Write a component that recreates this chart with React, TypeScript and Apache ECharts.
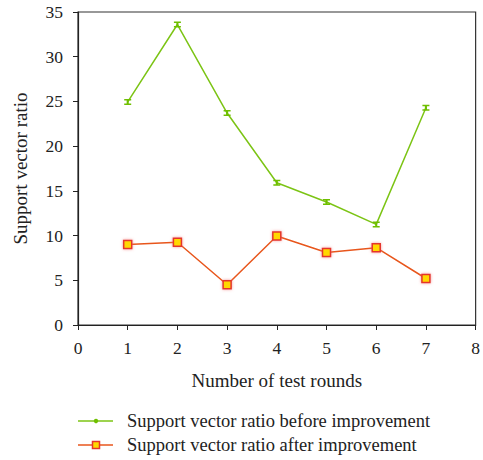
import React, { useEffect, useRef } from "react";
import * as echarts from "echarts";

const rounds = [1, 2, 3, 4, 5, 6, 7];
const beforeValues = [24.95, 33.6, 23.7, 15.9, 13.75, 11.25, 24.3];
const afterValues = [9.0, 9.25, 4.5, 9.95, 8.1, 8.65, 5.2];
const seriesNames = [
  "Support vector ratio before improvement",
  "Support vector ratio after improvement",
];
const xTitle = "Number of test rounds";
const yTitle = "Support vector ratio";

const FONT = "'Liberation Serif', 'Times New Roman', serif";
const GREEN = "#7cc415";
const GREEN_MARK = "#6fbf00";
const ORANGE = "#e8561c";
const IBAR = "path://M0,0 L10,0 L10,2.5 L6.5,2.5 L6.5,7.5 L10,7.5 L10,10 L0,10 L0,7.5 L3.5,7.5 L3.5,2.5 L0,2.5 Z";

export default function App() {
  const ref = useRef<HTMLDivElement>(null);
  useEffect(() => {
    if (!ref.current) return;
    const chart = echarts.init(ref.current, undefined, { renderer: "svg" });
    const legendRows = [421, 445];
    chart.setOption({
      animation: false,
      backgroundColor: "#fff",
      textStyle: { fontFamily: FONT },
      grid: {
        left: 78,
        top: 12,
        right: 6,
        bottom: 135,
        show: true,
        borderColor: "#333",
        borderWidth: 1.2,
      },
      xAxis: {
        type: "value",
        min: 0,
        max: 8,
        interval: 1,
        name: xTitle,
        nameLocation: "middle",
        nameGap: 46,
        nameTextStyle: { fontFamily: FONT, fontSize: 19, color: "#222" },
        axisLine: { lineStyle: { color: "#222", width: 1.2 } },
        axisTick: { inside: false, length: 5, lineStyle: { color: "#222" } },
        axisLabel: { fontFamily: FONT, fontSize: 17.5, color: "#222", margin: 14 },
        splitLine: { show: false },
      },
      yAxis: {
        type: "value",
        min: 0,
        max: 35,
        interval: 5,
        name: yTitle,
        nameLocation: "middle",
        nameGap: 48,
        nameTextStyle: { fontFamily: FONT, fontSize: 19, color: "#222" },
        axisLine: { show: true, lineStyle: { color: "#222", width: 1.2 } },
        axisTick: { show: true, length: 5, lineStyle: { color: "#222" } },
        axisLabel: { fontFamily: FONT, fontSize: 17.5, color: "#222", margin: 15 },
        splitLine: { show: false },
      },
      graphic: [
        { type: "line", shape: { x1: 78, y1: legendRows[0], x2: 113, y2: legendRows[0] }, style: { stroke: GREEN, lineWidth: 1.5 } },
        { type: "circle", shape: { cx: 96, cy: legendRows[0], r: 2.2 }, style: { fill: GREEN_MARK } },
        { type: "text", x: 127, y: legendRows[0], style: { text: seriesNames[0], font: `18.5px ${FONT}`, fill: "#222", textVerticalAlign: "middle", verticalAlign: "middle" } },
        { type: "line", shape: { x1: 78, y1: legendRows[1], x2: 113, y2: legendRows[1] }, style: { stroke: ORANGE, lineWidth: 1.5 } },
        { type: "rect", shape: { x: 92.5, y: legendRows[1] - 3.5, width: 7, height: 7 }, style: { fill: "#ffd800", stroke: "#e5352a", lineWidth: 1.5 } },
        { type: "text", x: 127, y: legendRows[1], style: { text: seriesNames[1], font: `18.5px ${FONT}`, fill: "#222", textVerticalAlign: "middle", verticalAlign: "middle" } },
      ],
      series: [
        {
          name: seriesNames[0],
          type: "line",
          data: rounds.map((r, i) => [r, beforeValues[i]]),
          symbol: IBAR,
          symbolSize: [7, 6],
          lineStyle: { color: GREEN, width: 1.5 },
          itemStyle: { color: GREEN_MARK },
        },
        {
          name: seriesNames[1],
          type: "line",
          data: rounds.map((r, i) => [r, afterValues[i]]),
          symbol: "rect",
          symbolSize: 8,
          lineStyle: { color: ORANGE, width: 1.5 },
          itemStyle: {
            color: "#ffd800",
            borderColor: "#e5352a",
            borderWidth: 1.5,
            shadowBlur: 3,
            shadowColor: "rgba(240,110,110,0.7)",
          },
        },
      ],
    });
    return () => chart.dispose();
  }, []);
  return <div ref={ref} style={{ width: 483, height: 460, position: "absolute", left: 0, top: 0 }} />;
}
